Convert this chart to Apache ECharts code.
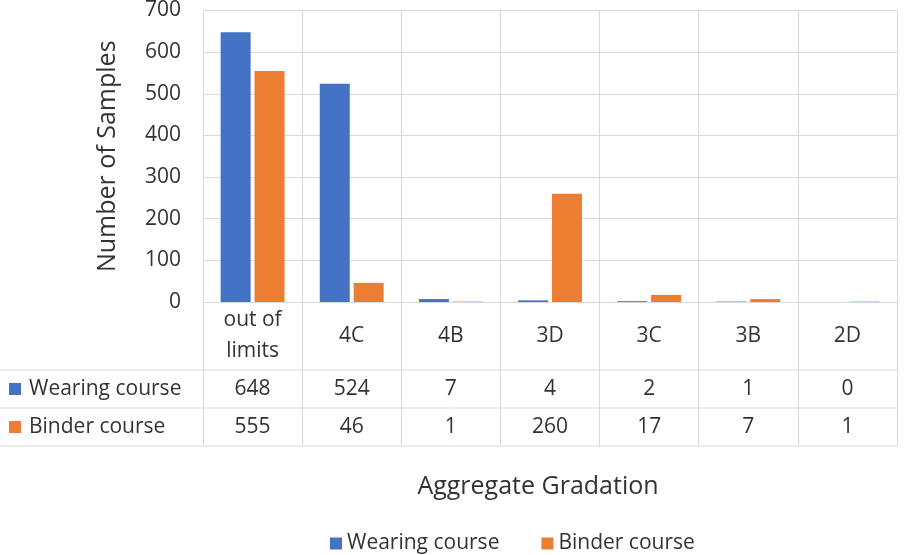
<!DOCTYPE html>
<html>
<head>
<meta charset="utf-8">
<script src="https://cdn.jsdelivr.net/npm/echarts@6/dist/echarts.min.js"></script>
<style>
  html, body { margin: 0; padding: 0; background: #fff; }
  #chart { width: 904px; height: 555px; }
</style>
</head>
<body>
<div id="chart"></div>
<script>
// data
const categories = ['out of\nlimits', '4C', '4B', '3D', '3C', '3B', '2D'];
const wearing = [648, 524, 7, 4, 2, 1, 0];
const binder = [555, 46, 1, 260, 17, 7, 1];
const seriesNames = ['Wearing course', 'Binder course'];
const colors = ['#4472C4', '#ED7D31'];

const font = 'Open Sans';
const textColor = '#333333';
const lineColor = '#d9d9d9';
const fs = 21;

const chart = echarts.init(document.getElementById('chart'));

// grid edges (plot area) – the data table hangs below it
const gridLeft = 203, gridRight = 7, gridTop = 10, gridBottom = 253;
const tableTop = 555 - gridBottom;      // 302
const row1 = tableTop + 68;             // 370
const row2 = row1 + 38;                 // 408
const row3 = row2 + 38;                 // 446

const option = {
  animation: false,
  textStyle: { fontFamily: font },
  color: colors,
  grid: { left: gridLeft, right: gridRight, top: gridTop, bottom: gridBottom },
  legend: {
    top: 528,
    left: 325,
    icon: 'rect',
    itemWidth: 12,
    itemHeight: 12,
    itemGap: 42,
    textStyle: { fontFamily: font, fontSize: fs, color: textColor },
    data: seriesNames
  },
  xAxis: [
    {
      type: 'category',
      data: categories,
      axisLine: { lineStyle: { color: lineColor, width: 1 } },
      axisTick: { show: true, length: row3 - tableTop, interval: 0, lineStyle: { color: lineColor } },
      splitLine: { show: true, interval: 0, lineStyle: { color: lineColor } },
      axisLabel: {
        interval: 0, margin: 34, verticalAlign: 'middle', lineHeight: 31,
        fontSize: fs, color: textColor, fontFamily: font
      }
    },
    {
      type: 'category',
      gridIndex: 0,
      position: 'bottom',
      offset: row1 - tableTop,
      data: wearing.map(String),
      axisLine: { show: false },
      axisTick: { show: false },
      axisLabel: { interval: 0, margin: 19, verticalAlign: 'middle', fontSize: fs, color: textColor, fontFamily: font }
    },
    {
      type: 'category',
      gridIndex: 0,
      position: 'bottom',
      offset: row2 - tableTop,
      data: binder.map(String),
      axisLine: { show: false },
      axisTick: { show: false },
      axisLabel: { interval: 0, margin: 19, verticalAlign: 'middle', fontSize: fs, color: textColor, fontFamily: font }
    }
  ],
  yAxis: {
    type: 'value',
    min: 0,
    max: 700,
    interval: 100,
    name: 'Number of Samples',
    nameLocation: 'middle',
    nameGap: 83,
    nameTextStyle: { fontSize: 25, color: textColor, fontFamily: font },
    axisLine: { show: false },
    axisTick: { show: false },
    splitLine: { lineStyle: { color: lineColor, width: 1 } },
    axisLabel: { margin: 22, fontSize: fs, color: textColor, fontFamily: font }
  },
  series: [
    { name: seriesNames[0], type: 'bar', data: wearing, barWidth: 30, barGap: '13%' },
    { name: seriesNames[1], type: 'bar', data: binder, barWidth: 30, barGap: '13%' }
  ],
  graphic: [
    // table rules extending into the legend column
    { type: 'line', shape: { x1: 0, y1: row1, x2: 904 - gridRight, y2: row1 }, style: { stroke: lineColor, lineWidth: 1 } },
    { type: 'line', shape: { x1: 0, y1: row2, x2: 904 - gridRight, y2: row2 }, style: { stroke: lineColor, lineWidth: 1 } },
    { type: 'line', shape: { x1: 0, y1: row3, x2: 904 - gridRight, y2: row3 }, style: { stroke: lineColor, lineWidth: 1 } },
    // legend keys of the data table
    { type: 'rect', shape: { x: 9, y: (row1 + row2) / 2 - 6, width: 12, height: 12 }, style: { fill: colors[0] } },
    { type: 'text', x: 29, y: (row1 + row2) / 2, style: { text: seriesNames[0], fontSize: fs, fontFamily: font, fill: textColor, verticalAlign: 'middle' } },
    { type: 'rect', shape: { x: 9, y: (row2 + row3) / 2 - 6, width: 12, height: 12 }, style: { fill: colors[1] } },
    { type: 'text', x: 29, y: (row2 + row3) / 2, style: { text: seriesNames[1], fontSize: fs, fontFamily: font, fill: textColor, verticalAlign: 'middle' } },
    // x axis title
    { type: 'text', x: 538, y: 487, style: { text: 'Aggregate Gradation', fontSize: 25, fontFamily: font, fill: textColor, align: 'center', verticalAlign: 'middle' } }
  ]
};

chart.setOption(option);
</script>
</body>
</html>
